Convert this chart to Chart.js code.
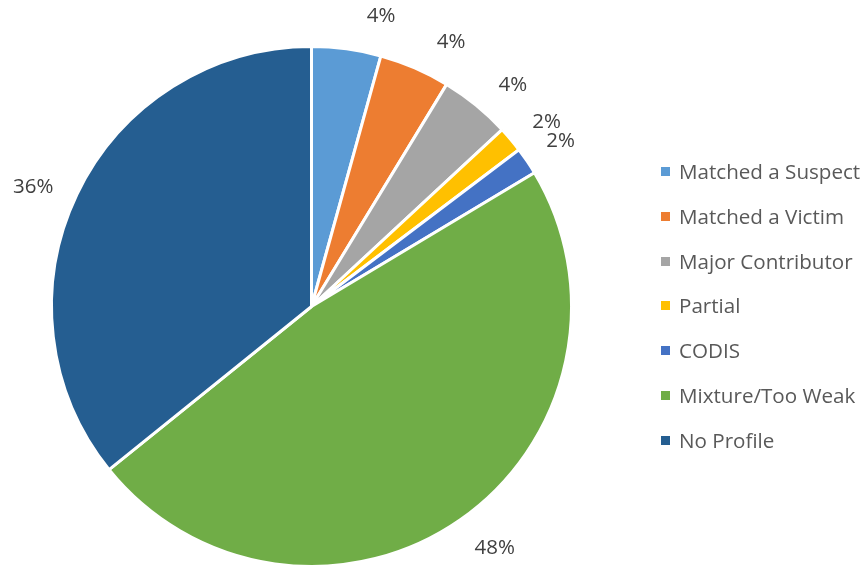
<!DOCTYPE html>
<html lang="en">
<head>
  <meta charset="UTF-8">
  <title>DNA Profile Results</title>
  <script src="https://cdn.jsdelivr.net/npm/chart.js"></script>
  <style>
    html, body { margin: 0; padding: 0; background: #fff; overflow: hidden; }
    #wrap { position: relative; width: 867px; height: 565px; overflow: hidden; }
    canvas { position: absolute; left: 0; top: 0; }
    #legend {
      position: absolute; left: 661px; top: 157px;
      font-family: 'Open Sans', sans-serif; font-size: 20.6px; color: #595959;
    }
    #legend .item { height: 44.8px; display: flex; align-items: flex-start; white-space: nowrap; }
    #legend .box { width: 9px; height: 9px; margin: 10px 9px 0 0; flex: none; }
  </style>
</head>
<body>
  <div id="wrap">
    <canvas id="pie" width="867" height="570"></canvas>
    <div id="legend"></div>
  </div>

  <script>
    const categories = ['Matched a Suspect', 'Matched a Victim', 'Major Contributor', 'Partial', 'CODIS', 'Mixture/Too Weak', 'No Profile'];
    const shares = [4.3, 4.4, 4.4, 1.6, 1.7, 47.8, 35.8];
    const colors = ['#5B9BD5', '#ED7D31', '#A5A5A5', '#FFC000', '#4472C4', '#70AD47', '#255E91'];

    // percent labels outside each slice
    const outsideLabels = {
      id: 'outsideLabels',
      afterDatasetsDraw(chart) {
        const { ctx } = chart;
        const total = shares.reduce((a, b) => a + b, 0);
        ctx.save();
        ctx.font = '20.5px "Open Sans", sans-serif';
        ctx.fillStyle = '#404040';
        ctx.textAlign = 'center';
        ctx.textBaseline = 'middle';
        chart.getDatasetMeta(0).data.forEach((arc, i) => {
          const p = arc.getProps(['x', 'y', 'startAngle', 'endAngle', 'outerRadius'], true);
          // small slices near the top get pushed a little clockwise, like the original
          const small = shares[i] / total < 0.1;
          const nudge = small ? 0.1 - i * 0.023 : -0.04;
          const mid = (p.startAngle + p.endAngle) / 2 + nudge;
          const r = p.outerRadius + (small ? 39 : 43);
          const x = p.x + Math.cos(mid) * r;
          const y = p.y + Math.sin(mid) * r;
          ctx.fillText(Math.round(shares[i] / total * 100) + '%', x, y);
        });
        ctx.restore();
      }
    };

    new Chart(document.getElementById('pie'), {
      type: 'pie',
      data: {
        labels: categories,
        datasets: [{ data: shares, backgroundColor: colors, borderColor: '#fff', borderWidth: 3 }]
      },
      options: {
        responsive: false, animation: false,
        layout: { padding: { left: 50, top: 45, right: 294, bottom: 2 } },
        plugins: { legend: { display: false }, tooltip: { enabled: false } }
      },
      plugins: [outsideLabels]
    });

    document.getElementById('legend').innerHTML = categories.map((c, i) =>
      `<div class="item"><span class="box" style="background:${colors[i]}"></span>${c}</div>`).join('');
  </script>
</body>
</html>
